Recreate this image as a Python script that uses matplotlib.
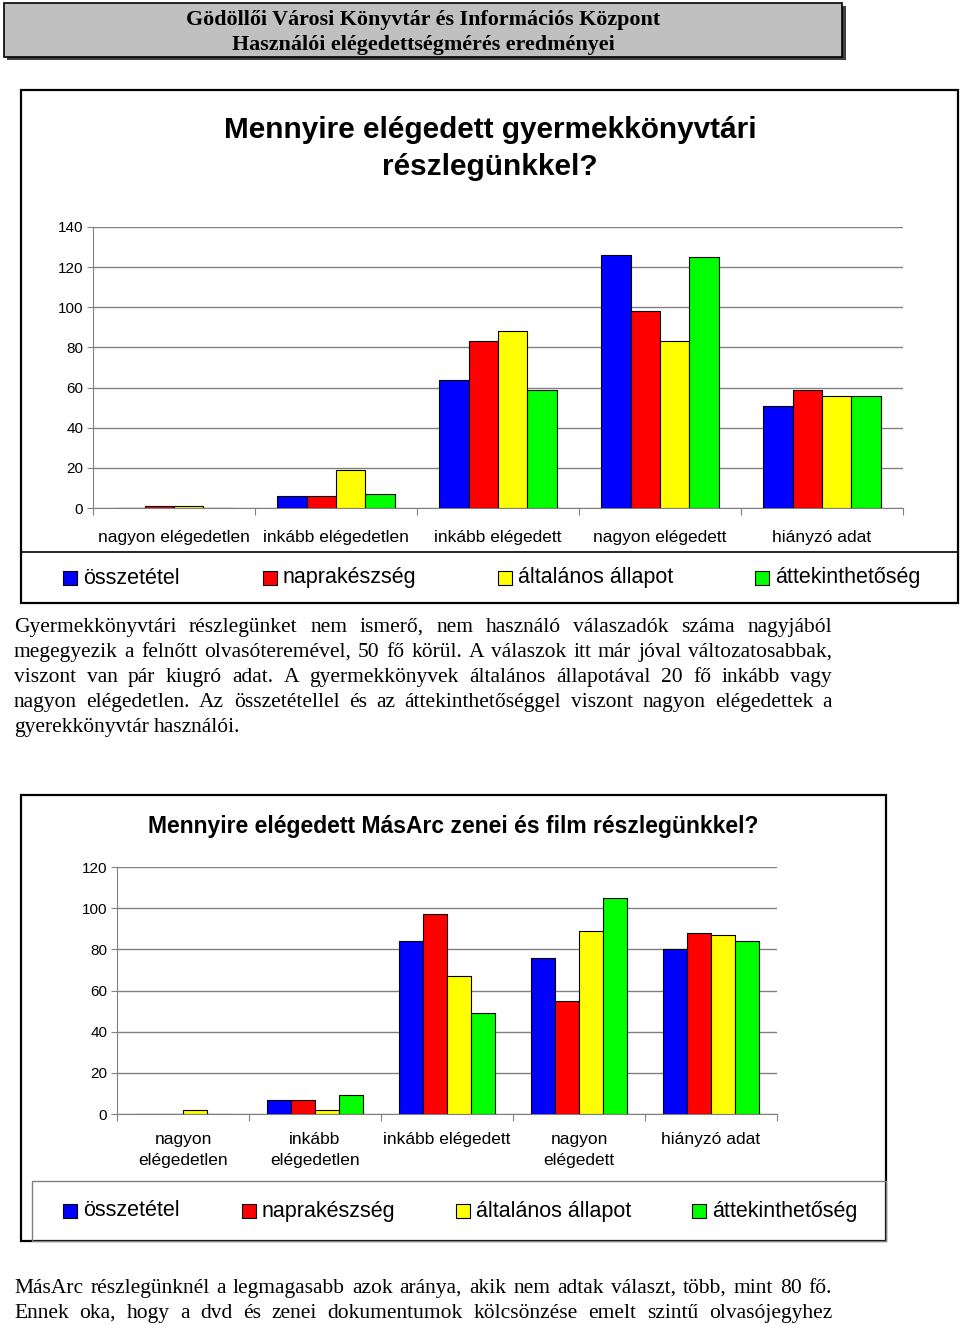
import numpy as np
import matplotlib
matplotlib.use('Agg')
import matplotlib.pyplot as plt
from matplotlib.patches import Rectangle
from matplotlib.lines import Line2D

W, H = 960, 1324

series = ['összetétel', 'naprakészség', 'általános állapot', 'áttekinthetőség']
colors = ['#0000ff', '#ff0000', '#ffff00', '#00ff00']

cats1 = ['nagyon elégedetlen', 'inkább elégedetlen', 'inkább elégedett',
         'nagyon elégedett', 'hiányzó adat']
osszetetel1 = [0, 6, 64, 126, 51]
naprakesz1 = [1, 6, 83, 98, 59]
altalanos1 = [1, 19, 88, 83, 56]
attekint1 = [0, 7, 59, 125, 56]

cats2 = ['nagyon\nelégedetlen', 'inkább\nelégedetlen', 'inkább elégedett',
         'nagyon\nelégedett', 'hiányzó adat']
osszetetel2 = [0, 7, 84, 76, 80]
naprakesz2 = [0, 7, 97, 55, 88]
altalanos2 = [2, 2, 67, 89, 87]
attekint2 = [0, 9, 49, 105, 84]

para1 = ['Gyermekkönyvtári részlegünket nem ismerő, nem használó válaszadók száma nagyjából',
         'megegyezik a felnőtt olvasóteremével, 50 fő körül. A válaszok itt már jóval változatosabbak,',
         'viszont van pár kiugró adat. A gyermekkönyvek általános állapotával 20 fő inkább vagy',
         'nagyon elégedetlen. Az összetétellel és az áttekinthetőséggel viszont nagyon elégedettek a',
         'gyerekkönyvtár használói.']
para2 = ['MásArc részlegünknél a legmagasabb azok aránya, akik nem adtak választ, több, mint 80 fő.',
         'Ennek oka, hogy a dvd és zenei dokumentumok kölcsönzése emelt szintű olvasójegyhez']

SANS = 'Liberation Sans'
SERIF = 'Liberation Serif'

fig = plt.figure(figsize=(W / 100, H / 100), dpi=100)
fig.patch.set_facecolor('white')


def px(x, y):
    return x / W, 1 - y / H


def rect(x0, y0, x1, y1, **kw):
    fx, fy = px(x0, y1)
    r = Rectangle((fx, fy), (x1 - x0) / W, (y1 - y0) / H,
                  transform=fig.transFigure, **kw)
    fig.patches.append(r)
    return r


def hline(x0, x1, y, **kw):
    a, b = px(x0, y)
    c, d = px(x1, y)
    fig.lines.append(Line2D([a, c], [b, d], transform=fig.transFigure, **kw))


# header box
rect(7, 6, 846, 60, facecolor='#404040', edgecolor='none')
rect(4, 3, 842, 57, facecolor='#c0c0c0', edgecolor='black', linewidth=1.2)
fig.text(*px(423, 20), 'Gödöllői Városi Könyvtár és Információs Központ',
         ha='center', va='center', fontsize=15.8, fontweight='bold', family=SERIF)
fig.text(*px(423, 45), 'Használói elégedettségmérés eredményei',
         ha='center', va='center', fontsize=15.8, fontweight='bold', family=SERIF)


def bar_chart(ax, cats, data, ymax, pad):
    n = len(series)
    w = 1 / 5.5
    x = np.arange(len(cats))
    for j, vals in enumerate(data):
        ax.bar(x + (j - (n - 1) / 2) * w, vals, width=w, color=colors[j],
               edgecolor='black', linewidth=0.8, zorder=3)
    ax.set_xlim(-0.5, len(cats) - 0.5)
    ax.set_ylim(0, ymax)
    ax.set_yticks(np.arange(0, ymax + 1, 20))
    ax.grid(axis='y', color='#808080', linewidth=1, zorder=0)
    ax.set_xticks(np.arange(len(cats) + 1) - 0.5)
    ax.set_xticklabels([])
    ax.set_xticks(x, minor=True)
    ax.set_xticklabels(cats, minor=True, fontsize=12.5, family=SANS, linespacing=1.5)
    ax.tick_params(axis='x', which='major', length=5, color='#808080')
    ax.tick_params(axis='x', which='minor', length=0, pad=pad)
    ax.tick_params(axis='y', length=4, color='#808080', labelsize=11, pad=3)
    for lab in ax.get_yticklabels():
        lab.set_family(SANS)
    for s in ['top', 'right']:
        ax.spines[s].set_visible(False)
    for s in ['left', 'bottom']:
        ax.spines[s].set_color('#808080')
    ax.set_facecolor('none')


def legend_row(xs, y, size=15.5):
    for xs_, name, c in zip(xs, series, colors):
        rect(xs_, y - 7, xs_ + 14, y + 7, facecolor=c, edgecolor='black', linewidth=0.8)
        fig.text(*px(xs_ + 20, y), name, ha='left', va='center', fontsize=size, family=SANS)


# chart 1
rect(21, 90, 958, 603, facecolor='none', edgecolor='black', linewidth=1.6)
fig.text(*px(490, 130), 'Mennyire elégedett gyermekkönyvtári', ha='center', va='center',
         fontsize=21.4, fontweight='bold', family=SANS)
fig.text(*px(490, 167), 'részlegünkkel?', ha='center', va='center',
         fontsize=21.4, fontweight='bold', family=SANS)
ax1 = fig.add_axes([93 / W, 1 - 508 / H, 810 / W, (508 - 227) / H])
bar_chart(ax1, cats1, [osszetetel1, naprakesz1, altalanos1, attekint1], 140, 16)
hline(21, 958, 552, color='black', linewidth=1.2)
legend_row([63, 263, 498, 755], 578)

# chart 2
rect(21, 795, 886, 1241, facecolor='none', edgecolor='black', linewidth=1.6)
fig.text(*px(453, 826), 'Mennyire elégedett MásArc zenei és film részlegünkkel?',
         ha='center', va='center', fontsize=16.5, fontweight='bold', family=SANS)
ax2 = fig.add_axes([117 / W, 1 - 1114 / H, 660 / W, (1114 - 867) / H])
bar_chart(ax2, cats2, [osszetetel2, naprakesz2, altalanos2, attekint2], 120, 13)
rect(32, 1181, 886, 1241, facecolor='none', edgecolor='#808080', linewidth=1)
legend_row([63, 242, 456, 692], 1211)

# justified body text
renderer = fig.canvas.get_renderer()
BODY = 15.5


def justify(line, y, last=False, x0=14, x1=832):
    words = line.split()
    objs = [fig.text(0, 0, wd, fontsize=BODY, family=SERIF, va='baseline') for wd in words]
    widths = [o.get_window_extent(renderer).width for o in objs]
    if last or len(words) < 2:
        gap = BODY * 0.25 * 100 / 72
    else:
        gap = (x1 - x0 - sum(widths)) / (len(words) - 1)
    x = x0
    for o, wd in zip(objs, widths):
        o.set_position(px(x, y))
        x += wd + gap


for i, line in enumerate(para1):
    justify(line, 632 + 25 * i, last=(i == len(para1) - 1))
for i, line in enumerate(para2):
    justify(line, 1293 + 25 * i)

fig.savefig('out.png', dpi=100)
